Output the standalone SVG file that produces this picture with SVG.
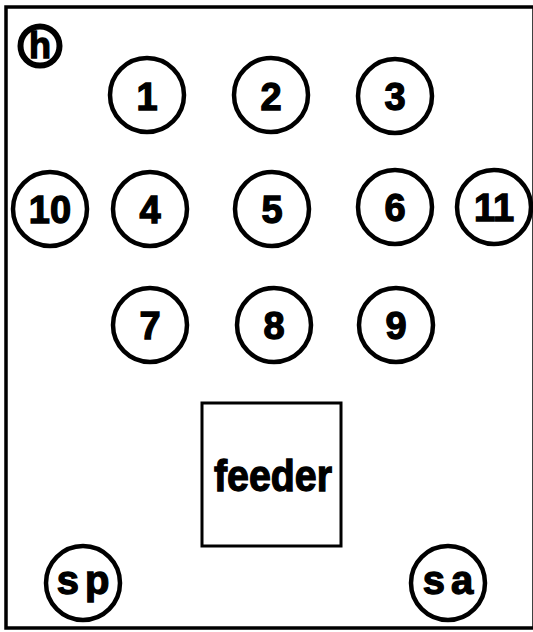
<svg xmlns="http://www.w3.org/2000/svg" width="533" height="632" viewBox="0 0 533 632">
<style>
.c{fill:#fff;stroke:#000;stroke-width:4.5}
.t{font-family:"Liberation Sans",Arial,sans-serif;font-weight:bold;font-size:38px;text-anchor:middle;fill:#000;stroke:#000;stroke-width:1.3}
.w{font-family:"Liberation Sans",Arial,sans-serif;font-weight:bold;text-anchor:middle;fill:#000;stroke:#000;stroke-width:1.3}
</style>
<rect x="0" y="0" width="533" height="632" fill="#fff"/>
<rect id="frame" x="6" y="7" width="528" height="621" fill="none" stroke="#000" stroke-width="3.5"/>
<g id="logo"><circle cx="40" cy="46" r="19.5" fill="#fff" stroke="#000" stroke-width="6"/><text class="w" x="40" y="58" font-size="36" stroke-width="2">h</text></g>
<g id="connectors"></g>
<g id="n1"><circle class="c" cx="147" cy="95" r="37"/><text class="t" x="147" y="110">1</text></g>
<g id="n2"><circle class="c" cx="271" cy="95" r="37"/><text class="t" x="271" y="110">2</text></g>
<g id="n3"><circle class="c" cx="395" cy="96" r="37"/><text class="t" x="395" y="110">3</text></g>
<g id="n10"><circle class="c" cx="50" cy="209" r="37"/><text class="t" x="50" y="223">10</text></g>
<g id="n4"><circle class="c" cx="150" cy="209" r="37"/><text class="t" x="150" y="223">4</text></g>
<g id="n5"><circle class="c" cx="272" cy="209" r="37"/><text class="t" x="272" y="223">5</text></g>
<g id="n6"><circle class="c" cx="395" cy="207" r="37"/><text class="t" x="395" y="221">6</text></g>
<g id="n11"><circle class="c" cx="494" cy="207" r="37"/><text class="t" x="494" y="221">11</text></g>
<g id="n7"><circle class="c" cx="150" cy="325" r="37"/><text class="t" x="150" y="339">7</text></g>
<g id="n8"><circle class="c" cx="274" cy="325" r="37"/><text class="t" x="274" y="339">8</text></g>
<g id="n9"><circle class="c" cx="396" cy="325" r="37"/><text class="t" x="396" y="339">9</text></g>
<g id="feeder"><rect x="202" y="403" width="139" height="143" fill="#fff" stroke="#000" stroke-width="3"/><text class="w" x="273" y="491" font-size="44" textLength="118" lengthAdjust="spacingAndGlyphs">feeder</text></g>
<g id="sp"><circle class="c" cx="83" cy="583" r="37"/><text class="w" x="86" y="594" font-size="40" letter-spacing="6">sp</text></g>
<g id="sa"><circle class="c" cx="448" cy="583" r="37"/><text class="w" x="451" y="594" font-size="40" letter-spacing="6">sa</text></g>
</svg>
